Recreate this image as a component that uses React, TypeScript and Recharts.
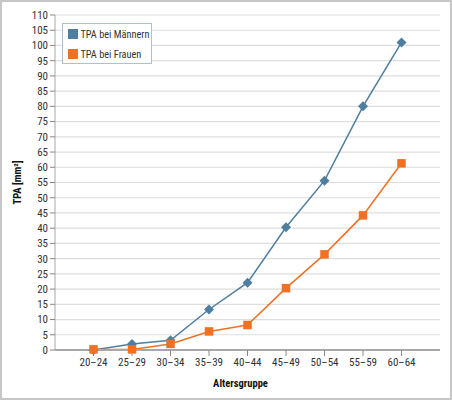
import React from 'react';
import { LineChart, Line, XAxis, YAxis, CartesianGrid } from 'recharts';

const groups = ['20–24', '25–29', '30–34', '35–39', '40–44', '45–49', '50–54', '55–59', '60–64'];
const maenner = [0, 2, 3.2, 13.3, 22.1, 40.3, 55.6, 80, 101];
const frauen = [0.2, 0.2, 2, 6.1, 8.2, 20.3, 31.4, 44.2, 61.3];
const yTicks = [0, 5, 10, 15, 20, 25, 30, 35, 40, 45, 50, 55, 60, 65, 70, 75, 80, 85, 90, 95, 100, 105, 110];
const seriesNames = ['TPA bei Männern', 'TPA bei Frauen'];

const BLUE = '#4e7fa0';
const ORANGE = '#f07024';
const FONT = '"Liberation Sans Narrow", "Roboto Condensed", "DejaVu Sans Condensed", sans-serif';

const data = groups.map((g, i) => ({ group: g, m: maenner[i], f: frauen[i] }));

function Diamond(props: any) {
    const { cx, cy } = props;
    if (cx == null || cy == null) return null;
    const r = 5;
    return <path d={`M${cx},${cy - r}L${cx + r},${cy}L${cx},${cy + r}L${cx - r},${cy}Z`} fill={BLUE} stroke="none" />;
}

function Square(props: any) {
    const { cx, cy } = props;
    if (cx == null || cy == null) return null;
    const s = 8.5;
    return <rect x={cx - s / 2} y={cy - s / 2} width={s} height={s} fill={ORANGE} stroke="none" />;
}

export default function App() {
    const tickStyle = { fontSize: 11, fill: '#333', fontFamily: FONT };
    return (
        <div style={{ position: 'absolute', left: 0, top: 0, width: 452, height: 400, background: '#fff', boxShadow: 'inset 0 0 0 2px #c6c6c6', fontFamily: FONT }}>
            <LineChart width={452} height={400} data={data} margin={{ top: 15, right: 12, bottom: 10, left: 0 }}>
                <CartesianGrid yAxisId="left" vertical={false} stroke="#dedede" strokeWidth={1.2} />
                <XAxis
                    dataKey="group"
                    padding={{ left: 38.5, right: 38.5 }}
                    height={40}
                    tickSize={6}
                    tick={tickStyle}
                    stroke="#a8a8a8"
                    axisLine={{ stroke: '#a8a8a8', strokeWidth: 2 }}
                    tickLine={{ stroke: '#888' }}
                    interval={0}
                    label={{ value: 'Altersgruppe', position: 'insideBottom', offset: 3, dx: -7, style: { fontSize: 10.5, fontWeight: 'bold', fill: '#111', fontFamily: FONT } }}
                />
                <YAxis
                    yAxisId="left"
                    domain={[0, 110]}
                    ticks={yTicks}
                    interval={0}
                    width={55}
                    tickSize={5}
                    tick={tickStyle}
                    axisLine={{ stroke: '#a8a8a8' }}
                    tickLine={{ stroke: '#888' }}
                    label={{ value: 'TPA [mm²]', angle: -90, position: 'center', dx: -10, style: { fontSize: 10.5, fontWeight: 'bold', fill: '#111', fontFamily: FONT, textAnchor: 'middle' } }}
                />
                <YAxis yAxisId="right" orientation="right" domain={[0, 110]} width={0} tick={false} tickLine={false} axisLine={{ stroke: '#dedede', strokeWidth: 1.5 }} />
                <Line yAxisId="left" type="linear" dataKey="m" name={seriesNames[0]} stroke={BLUE} strokeWidth={1.5} dot={<Diamond />} activeDot={false} isAnimationActive={false} />
                <Line yAxisId="left" type="linear" dataKey="f" name={seriesNames[1]} stroke={ORANGE} strokeWidth={1.5} dot={<Square />} activeDot={false} isAnimationActive={false} />
            </LineChart>
            <div style={{ position: 'absolute', left: 62, top: 23, width: 90, height: 41, boxSizing: 'border-box', border: '1.5px solid #a9c3d3', background: '#fff', padding: '5px 0 0 4.5px' }}>
                {seriesNames.map((n, i) => (
                    <div key={n} style={{ display: 'flex', alignItems: 'center', height: 10, marginBottom: 10, fontSize: 10.3, color: '#333' }}>
                        <span style={{ display: 'inline-block', width: 10, height: 10, background: i === 0 ? BLUE : ORANGE, marginRight: 3, flexShrink: 0 }} />
                        <span style={{ whiteSpace: 'nowrap' }}>{n}</span>
                    </div>
                ))}
            </div>
        </div>
    );
}
